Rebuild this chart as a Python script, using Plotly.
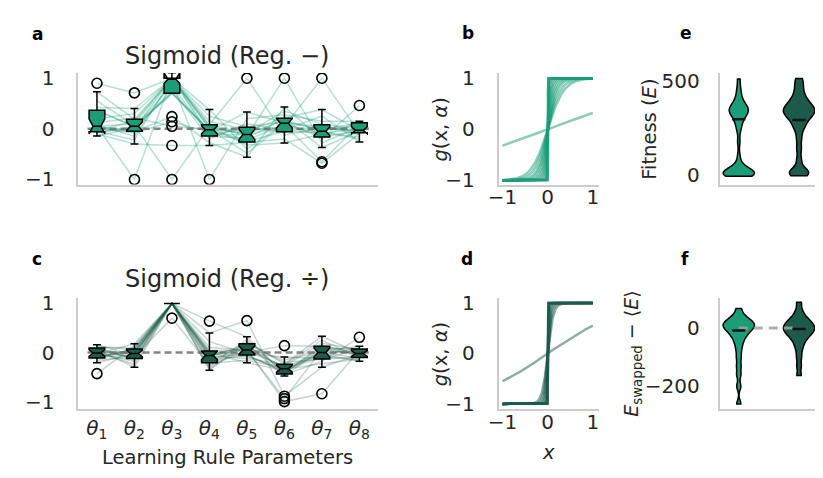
import numpy as np
import plotly.graph_objects as go

W, H = 823, 478
TEAL = "#1b9e77"
DARK = "#1c5a49"
TXT = "#262626"
FONT = "DejaVu Sans"

# ---------------- data ----------------
param_pos = [0, 1, 2, 3, 4, 5, 6, 7]
param_labels = ["<i>θ</i><sub>%d</sub>" % i for i in range(1, 9)]

# Sigmoid (Reg. -) : one value per evolved run and parameter
minus_t1 = [0.05, 0.37, -0.03, 0.90, 0.0, 0.2, -0.08, 0.42, 0.08, 0.55, 0.05, -0.06, 0.12, 0.03, 0.73, 0.36, -0.1, -0.14, 0.01, -0.05]
minus_t2 = [0.1, 0.04, 0.15, 0.71, -0.05, 0.3, 0.05, 0.4, -0.15, 0.07, -1.0, 0.0, 0.22, -0.03, 0.19, 0.05, -0.30, 0.02, -0.08, -0.22]
minus_t3 = [1.0, 0.85, 1.0, 1.0, 0.24, 1.0, 0.72, 1.0, 0.95, -1.0, 1.0, 1.0, 0.05, 0.78, 1.0, 0.70, -0.33, 0.70, 0.14, 1.0]
minus_t4 = [0.02, -0.13, 0.38, 0.0, -0.27, 0.08, -0.03, 0.15, -1.0, 0.04, -0.1, 0.25, -0.01, -0.2, 0.06, -0.05, -0.33, -0.02, -0.07, -0.15]
minus_t5 = [-0.1, 0.02, -0.4, -0.05, -0.56, 1.0, -0.22, -0.02, 0.2, -0.32, -0.12, 0.04, -0.48, 0.1, -0.14, 0.33, -0.27, -0.08, -0.25, -0.18]
minus_t6 = [0.17, -0.07, 0.11, 0.22, 0.43, -0.12, 0.08, 0.02, 0.28, -0.28, 0.05, 0.14, 0.1, -0.02, 1.0, 0.12, -0.2, 0.35, -0.05, 0.2]
minus_t7 = [-0.04, 0.07, -0.14, 0.38, -0.2, 0.01, -0.65, -0.06, 0.15, -0.1, 1.0, -0.02, -0.17, 0.25, -0.28, 0.04, -0.68, 0.09, -0.08, -0.37]
minus_t8 = [0.07, -0.12, 0.13, -0.03, 0.46, -0.04, 0.1, -0.2, 0.15, 0.01, -0.08, 0.12, -0.03, -0.26, 0.04, -0.06, -0.09, -0.01, -0.16, -0.05]

minus_q1 = [-0.06, -0.05, 0.70, -0.14, -0.26, -0.06, -0.16, -0.08]
minus_med = [0.05, 0.05, 1.0, -0.02, -0.11, 0.11, -0.05, -0.03]
minus_q3 = [0.365, 0.19, 1.0, 0.08, 0.03, 0.21, 0.08, 0.12]
minus_lo = [-0.14, -0.30, 0.70, -0.33, -0.56, -0.28, -0.37, -0.26]
minus_hi = [0.73, 0.40, 1.0, 0.38, 0.33, 0.43, 0.38, 0.15]

# Sigmoid (Reg. ÷)
div_t1 = [0.02, -0.11, 0.09, -0.01, 0.16, -0.43, 0.06, -0.05, 0.1, -0.16, 0.0, 0.13, -0.21, -0.03, 0.09, -0.08, 0.04, -0.12, -0.01, -0.1]
div_t2 = [-0.02, 0.07, -0.12, 0.03, -0.06, 0.14, -0.30, 0.0, 0.1, -0.08, -0.24, 0.05, -0.02, 0.18, -0.14, 0.01, -0.11, 0.08, -0.18, -0.04]
div_t3 = [1.0, 1.0, 1.0, 1.0, 1.0, 1.0, 1.0, 1.0, 1.0, 0.70, 1.0, 1.0, 1.0, 1.0, 1.0, 1.0, 1.0, 1.0, 1.0, 1.0]
div_t4 = [-0.05, 0.02, -0.2, 0.1, -0.33, -0.07, 0.64, -0.12, 0.0, -0.26, 0.40, -0.04, -0.16, -0.36, 0.04, -0.22, -0.09, 0.22, -0.3, -0.02]
div_t5 = [0.07, -0.04, 0.19, 0.05, 0.14, -0.12, 0.32, 0.0, -0.21, 0.03, 0.65, 0.1, -0.06, 0.22, 0.05, -0.16, 0.17, -0.02, 0.27, -0.08]
div_t6 = [-0.3, -0.41, -0.2, -0.94, -0.33, -0.25, -0.45, 0.14, -0.36, -0.28, -0.89, -0.15, -0.38, -0.23, -1.0, -0.32, -0.48, -0.09, -0.43, -0.34]
div_t7 = [0.0, 0.11, -0.14, 0.05, -0.06, 0.25, -0.18, 0.13, -0.09, 0.19, -0.3, 0.02, 0.0, 0.33, -0.84, -0.03, 0.08, -0.12, 0.15, -0.23]
div_t8 = [0.02, -0.07, 0.07, -0.02, 0.1, -0.1, 0.31, 0.0, -0.15, 0.06, -0.04, 0.13, -0.11, -0.02, 0.04, -0.18, 0.08, -0.09, -0.05, -0.13]

div_q1 = [-0.11, -0.12, 1.0, -0.21, -0.05, -0.44, -0.13, -0.10]
div_med = [-0.01, -0.02, 1.0, -0.06, 0.05, -0.33, 0.0, -0.02]
div_q3 = [0.09, 0.07, 1.0, 0.03, 0.18, -0.24, 0.13, 0.07]
div_lo = [-0.21, -0.30, 1.0, -0.36, -0.21, -0.48, -0.30, -0.18]
div_hi = [0.16, 0.18, 1.0, 0.40, 0.32, -0.09, 0.33, 0.13]

# slopes alpha of g(x, alpha) = tanh(alpha x)
alpha_minus = [0.33, 2.8, 3.5, 4.5, 5.5, 7, 9, 12, 16, 25, 40, 80, 200, 500, 1000, 1000]
alpha_div = [0.62, 8, 11, 15, 22, 35, 60, 120, 300, 1000, 1000, 1000]

# Fitness E
fit_minus = [-8, -6, -4, -2, 0, 2, 4, 6, 8, 11, 14, 17, 21, 26, 33, 42, 56, 100, 175,
             235, 262, 282, 298, 310, 320, 328, 334, 340, 345, 350, 356, 362, 370, 380, 392, 410, 435, 465, 512]
fit_div = [-5, 3, 10, 18, 28, 80, 140, 195,
           240, 262, 280, 296, 308, 318, 326, 333, 340, 347, 354, 362, 371, 381, 393, 408, 428, 455, 485, 514]
fit_mean = [296, 293]

# E_swapped - <E>
swap_minus = [67, 46, 36, 29, 24, 20, 16, 12, 9, 5, 1, -3, -8, -14, -21, -29, -40, -54, -74, -100, -130, -160, -200, -261]
swap_div = [89, 62, 45, 35, 28, 22, 17, 12, 8, 4, 0, -4, -8, -12, -17, -22, -28, -35, -45, -58, -75, -100, -130, -163]
swap_mean = [-8, -3]
swap_ref = [0, 0]

minus_samples = [minus_t1, minus_t2, minus_t3, minus_t4, minus_t5, minus_t6, minus_t7, minus_t8]
div_samples = [div_t1, div_t2, div_t3, div_t4, div_t5, div_t6, div_t7, div_t8]

# ---------------- helpers ----------------
def fx(p):
    return p / W

def fy(p):
    return 1 - p / H

def rgba(hexc, a):
    h = hexc.lstrip("#")
    r, g, b = int(h[0:2], 16), int(h[2:4], 16), int(h[4:6], 16)
    return "rgba(%d,%d,%d,%.3f)" % (r, g, b, a)

fig = go.Figure()

def add_box_panel(samples, q1, med, q3, lo, hi, color, line_alpha, xa, ya, oxa, oya):
    n = len(samples[0])
    for i in range(n):
        fig.add_trace(go.Scatter(x=param_pos, y=[col[i] for col in samples], mode="lines",
                                 line=dict(color=rgba(color, line_alpha), width=1.5),
                                 xaxis=xa, yaxis=ya, hoverinfo="skip", showlegend=False))
    fig.add_trace(go.Scatter(x=[-0.25, 7.25], y=[0, 0], mode="lines",
                             line=dict(color="rgba(110,110,110,0.85)", width=2.5, dash="7px,4px"),
                             xaxis=xa, yaxis=ya, hoverinfo="skip", showlegend=False))
    notch = [1.57 * (b - a) / np.sqrt(n) for a, b in zip(q1, q3)]
    fig.add_trace(go.Box(x=param_pos, q1=q1, median=med, q3=q3, lowerfence=lo, upperfence=hi,
                         notchspan=notch, notched=True, notchwidth=0.25, boxpoints=False,
                         fillcolor=color, line=dict(color="black", width=1.5), whiskerwidth=0.5,
                         width=0.42, xaxis=oxa, yaxis=oya, hoverinfo="skip", showlegend=False))
    ox, oy = [], []
    for j, col in enumerate(samples):
        for v in col:
            if v < lo[j] - 1e-9 or v > hi[j] + 1e-9:
                ox.append(param_pos[j])
                oy.append(v)
    fig.add_trace(go.Scatter(x=ox, y=oy, mode="markers",
                             marker=dict(symbol="circle-open", size=10, color="black", line=dict(width=1.6)),
                             xaxis=oxa, yaxis=oya, hoverinfo="skip", showlegend=False))

add_box_panel(minus_samples, minus_q1, minus_med, minus_q3, minus_lo, minus_hi, TEAL, 0.32, "x", "y", "x7", "y7")
add_box_panel(div_samples, div_q1, div_med, div_q3, div_lo, div_hi, DARK, 0.25, "x4", "y4", "x8", "y8")

xg = np.linspace(-1, 1, 2001)
for a in alpha_minus:
    fig.add_trace(go.Scatter(x=xg, y=np.tanh(a * xg), mode="lines",
                             line=dict(color=rgba(TEAL, 0.5), width=2.5),
                             xaxis="x2", yaxis="y2", hoverinfo="skip", showlegend=False))
for a in alpha_div:
    fig.add_trace(go.Scatter(x=xg, y=np.tanh(a * xg), mode="lines",
                             line=dict(color=rgba(DARK, 0.5), width=2.5),
                             xaxis="x5", yaxis="y5", hoverinfo="skip", showlegend=False))

def add_violins(vals_list, colors, bw, xa, ya):
    for k, (vals, c) in enumerate(zip(vals_list, colors)):
        fig.add_trace(go.Violin(y=vals, x0=k, fillcolor=c, line=dict(color="black", width=1.5),
                                spanmode="hard", bandwidth=bw, width=0.52, scalemode="width",
                                points=False, opacity=1, xaxis=xa, yaxis=ya,
                                hoverinfo="skip", showlegend=False))

def add_means(means, xa, ya):
    fig.add_trace(go.Scatter(x=[-0.11, 0.11, None, 0.89, 1.11], y=[means[0], means[0], None, means[1], means[1]],
                             mode="lines", line=dict(color="#111111", width=2.5),
                             xaxis=xa, yaxis=ya, hoverinfo="skip", showlegend=False))

add_violins([fit_minus, fit_div], [TEAL, DARK], 24, "x3", "y3")
add_means(fit_mean, "x3", "y3")

add_violins([swap_minus, swap_div], [TEAL, DARK], 13, "x6", "y6")
fig.add_trace(go.Scatter(x=[0, 1], y=swap_ref, mode="lines",
                         line=dict(color="rgba(160,160,160,0.85)", width=3, dash="9px,6px"),
                         xaxis="x6", yaxis="y6", hoverinfo="skip", showlegend=False))
add_means(swap_mean, "x6", "y6")

# ---------------- axes ----------------
TF = dict(family=FONT, size=20, color=TXT)

def axis(domain, anchor, rng, **kw):
    d = dict(domain=domain, anchor=anchor, range=rng, showline=True, linecolor="#cccccc", linewidth=1.5,
             showgrid=False, zeroline=False, ticks="", tickfont=TF, fixedrange=True, ticklabelstandoff=18)
    d.update(kw)
    return d

xa_dom = [fx(60), fx(364)]
xb_dom = [fx(486), fx(588)]
xe_dom = [fx(710), fx(812)]
top_dom = [fy(175), fy(60)]
bot_dom = [fy(406.7), fy(291.7)]

ytick = dict(tickvals=[-1, 0, 1], ticktext=["−1", "0", "1"])
xtick = dict(tickvals=[-1, 0, 1], ticktext=["−1", "0", "1"], ticklabelstandoff=-6)
xbox_rng = [-0.5, 7.5]
ya_rng = [-1.1, 1.1]
yc_rng = [-1.15, 1.12]

layout_axes = dict(
    xaxis=axis(xa_dom, "y", xbox_rng, showticklabels=False),
    yaxis=axis(top_dom, "x", ya_rng, **ytick),
    xaxis7=dict(overlaying="x", anchor="y7", range=xbox_rng, visible=False, fixedrange=True),
    yaxis7=dict(overlaying="y", anchor="x7", range=ya_rng, visible=False, fixedrange=True),
    xaxis4=axis(xa_dom, "y4", xbox_rng, tickvals=param_pos, ticktext=param_labels, ticklabelstandoff=0),
    yaxis4=axis(bot_dom, "x4", yc_rng, **ytick),
    xaxis8=dict(overlaying="x4", anchor="y8", range=xbox_rng, visible=False, fixedrange=True),
    yaxis8=dict(overlaying="y4", anchor="x8", range=yc_rng, visible=False, fixedrange=True),
    xaxis2=axis(xb_dom, "y2", [-1.09, 1.14], **xtick),
    yaxis2=axis(top_dom, "x2", [-1.08, 1.1], **ytick),
    xaxis5=axis(xb_dom, "y5", [-1.09, 1.14], **xtick),
    yaxis5=axis(bot_dom, "x5", [-1.1, 1.11], **ytick),
    xaxis3=axis(xe_dom, "y3", [-0.32, 1.35], showticklabels=False),
    yaxis3=axis(top_dom, "x3", [-52, 543], tickvals=[0, 500], ticktext=["0", "500"], ticklabelstandoff=14),
    xaxis6=axis(xe_dom, "y6", [-0.32, 1.35], showticklabels=False),
    yaxis6=axis(bot_dom, "x6", [-278, 105], tickvals=[-200, 0], ticktext=["−200", "0"], ticklabelstandoff=14),
)

ann = []
def text(t, x, y, size=19, bold=False, angle=0):
    if bold:
        t = "<b>%s</b>" % t
    ann.append(dict(text=t, x=fx(x), y=fy(y), xref="paper", yref="paper", showarrow=False,
                    xanchor="center", yanchor="middle", textangle=angle,
                    font=dict(family=FONT, size=size, color=TXT if not bold else "black")))

text("a", 19, 20, 17, True)
text("b", 455, 19, 17, True)
text("e", 676, 19, 17, True)
text("c", 18, 252, 17, True)
text("d", 454, 252, 17, True)
text("f", 675, 252, 17, True)
text("Sigmoid (Reg. −)", 211, 42, 24)
text("Sigmoid (Reg. ÷)", 211, 273, 24)
text("Learning Rule Parameters", 211, 457, 19.5)
text("<i>g</i>(x, <i>α</i>)", 427, 118, 19.5, angle=-90)
text("<i>g</i>(x, <i>α</i>)", 427, 350, 19.5, angle=-90)
text("<i>x</i>", 537, 452, 19.5)
text("Fitness (<i>E</i>)", 639, 118, 19.5, angle=-90)
text("<i>E</i><sub>swapped</sub> − ⟨<i>E</i>⟩", 621, 350, 19, angle=-90)

fig.update_layout(width=W, height=H, margin=dict(l=0, r=0, t=0, b=0),
                  paper_bgcolor="white", plot_bgcolor="white", showlegend=False,
                  font=dict(family=FONT, color=TXT), annotations=ann, **layout_axes)

fig.write_html("out.html")
